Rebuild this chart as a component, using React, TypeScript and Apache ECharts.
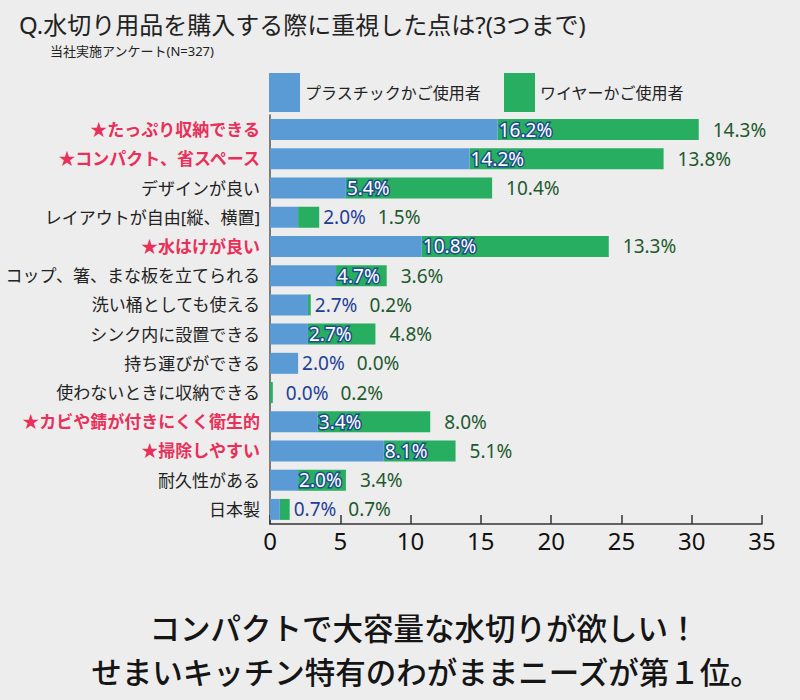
import React, { useEffect, useRef } from "react";
import * as echarts from "echarts";

const titleText = "Q.水切り用品を購入する際に重視した点は?(3つまで)";
const subText = "当社実施アンケート(N=327)";
const seriesNames = ["プラスチックかご使用者", "ワイヤーかご使用者"];
const categories = [
  "★たっぷり収納できる",
  "★コンパクト、省スペース",
  "デザインが良い",
  "レイアウトが自由[縦、横置]",
  "★水はけが良い",
  "コップ、箸、まな板を立てられる",
  "洗い桶としても使える",
  "シンク内に設置できる",
  "持ち運びができる",
  "使わないときに収納できる",
  "★カビや錆が付きにくく衛生的",
  "★掃除しやすい",
  "耐久性がある",
  "日本製",
];
const plastic = [16.2, 14.2, 5.4, 2.0, 10.8, 4.7, 2.7, 2.7, 2.0, 0.0, 3.4, 8.1, 2.0, 0.7];
const wire = [14.3, 13.8, 10.4, 1.5, 13.3, 3.6, 0.2, 4.8, 0.0, 0.2, 8.0, 5.1, 3.4, 0.7];
const bottomLines = [
  "コンパクトで大容量な水切りが欲しい！",
  "せまいキッチン特有のわがままニーズが第１位。",
];

const BLUE = "#5b9bd5";
const GREEN = "#27ae60";
const BLUE_TEXT = "#1f3f96";
const GREEN_TEXT = "#1d5a2e";
const RED = "#e8305a";
const BG = "#ededed";
const FONT = '"Noto Sans", "Noto Sans CJK JP", sans-serif';

export default function App() {
  const ref = useRef<HTMLDivElement>(null);
  useEffect(() => {
    document.body.style.margin = "0";
    document.body.style.background = BG;
    const chart = echarts.init(ref.current!, null, { renderer: "svg" });
    const fits = (i: number) => wire[i] >= 3;
    chart.setOption({
      animation: false,
      backgroundColor: BG,
      textStyle: { fontFamily: FONT },
      title: [
        {
          text: titleText,
          left: 14,
          top: 7,
          textStyle: { fontSize: 24, fontWeight: "normal", color: "#222", fontFamily: FONT },
        },
        {
          text: subText,
          left: 45,
          top: 39,
          textStyle: { fontSize: 13, fontWeight: "normal", color: "#222", fontFamily: FONT },
        },
      ],
      graphic: [
        {
          type: "text",
          x: 424,
          y: 628,
          style: {
            text: bottomLines[0],
            fontSize: 30.5,
            fontWeight: 500,
            fontFamily: FONT,
            fill: "#151515",
            align: "center",
            verticalAlign: "middle",
          },
        },
        {
          type: "text",
          x: 426,
          y: 672,
          style: {
            text: bottomLines[1],
            fontSize: 30.5,
            fontWeight: 500,
            fontFamily: FONT,
            fill: "#151515",
            align: "center",
            verticalAlign: "middle",
          },
        },
      ],
      legend: {
        data: seriesNames,
        left: 264,
        top: 68,
        icon: "rect",
        itemWidth: 31,
        itemHeight: 39,
        itemGap: 23,
        textStyle: { fontSize: 16, color: "#222", fontFamily: FONT },
      },
      grid: { left: 270, right: 38, top: 115, bottom: 176, containLabel: false },
      xAxis: {
        type: "value",
        min: 0,
        max: 35,
        interval: 5,
        axisLine: { show: true, lineStyle: { color: "#333", width: 1.5 } },
        axisTick: { show: true, inside: true, length: 9, lineStyle: { color: "#333", width: 1.5 } },
        splitLine: { show: false },
        axisLabel: { fontSize: 24, color: "#111", margin: 4, fontFamily: FONT },
      },
      yAxis: {
        type: "category",
        inverse: true,
        data: categories,
        axisLine: { show: true, lineStyle: { color: "#555", width: 1.5 } },
        axisTick: { show: false },
        axisLabel: {
          margin: 10,
          fontSize: 17,
          color: "#222",
          fontFamily: FONT,
          formatter: (v: string) => (v.startsWith("★") ? `{hl|${v}}` : v),
          rich: {
            hl: { color: RED, fontWeight: "bold", fontSize: 17, fontFamily: FONT },
          },
        },
      },
      series: [
        {
          name: seriesNames[0],
          type: "bar",
          stack: "total",
          barWidth: 21,
          z: 3,
          itemStyle: { color: BLUE },
          data: plastic.map((v, i) => ({ value: v, label: { show: fits(i) } })),
          label: {
            position: "right",
            distance: 1,
            fontSize: 19,
            fontFamily: FONT,
            color: "#ffffff",
            textBorderColor: "#1f4e8c",
            textBorderWidth: 3,
            formatter: (p: any) => `${Number(p.value).toFixed(1)}%`,
          },
        },
        {
          name: seriesNames[1],
          type: "bar",
          stack: "total",
          barWidth: 21,
          z: 2,
          itemStyle: { color: GREEN },
          data: wire.map((v, i) => ({
            value: v,
            label: { distance: fits(i) ? 14 : plastic[i] === 0 ? 13 : 4 },
          })),
          label: {
            show: true,
            position: "right",
            fontSize: 19,
            fontFamily: FONT,
            formatter: (p: any) => {
              const i = p.dataIndex;
              const g = `{g|${wire[i].toFixed(1)}%}`;
              return fits(i) ? g : `{b|${plastic[i].toFixed(1)}%}{sp|}${g}`;
            },
            rich: {
              g: { color: GREEN_TEXT, fontSize: 19, fontFamily: FONT },
              b: { color: BLUE_TEXT, fontSize: 19, fontFamily: FONT },
              sp: { width: 12 },
            },
          },
        },
      ],
    });
    return () => chart.dispose();
  }, []);
  return <div ref={ref} style={{ width: 800, height: 700, background: BG }} />;
}
